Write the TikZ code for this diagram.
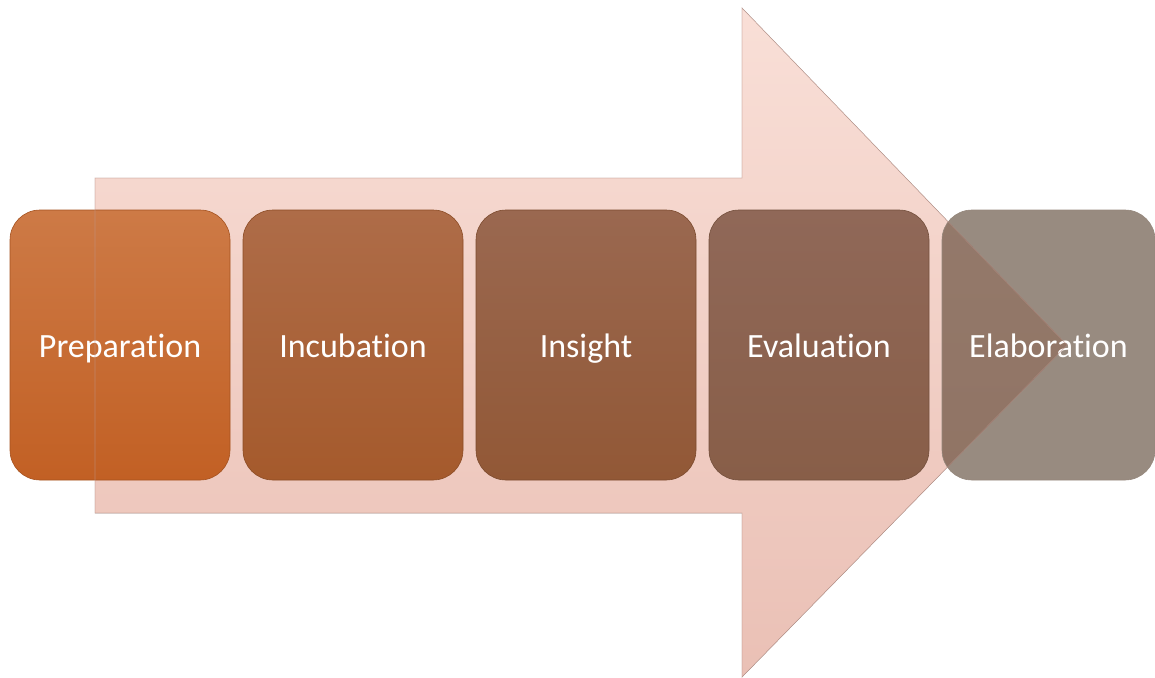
\documentclass[tikz,border=0pt]{standalone}
\usepackage{fontspec}
\setmainfont{Carlito}[Ligatures=NoCommon]
\usetikzlibrary{positioning}
\usetikzlibrary{shadings}

\definecolor{arrowtop}{RGB}{249,223,215}
\definecolor{arrowbot}{RGB}{234,192,181}
\definecolor{arrowline}{RGB}{190,150,140}
\definecolor{preptop}{RGB}{205,122,70}
\definecolor{prepbot}{RGB}{194,96,36}
\definecolor{incutop}{RGB}{174,108,72}
\definecolor{incubot}{RGB}{165,90,44}
\definecolor{instop}{RGB}{154,104,80}
\definecolor{insbot}{RGB}{146,88,54}
\definecolor{evaltop}{RGB}{144,104,88}
\definecolor{evalbot}{RGB}{136,94,72}
\definecolor{elabfill}{RGB}{78,55,36}

\tikzset{
  stagetext/.style={text=white, font=\fontsize{34}{40}\selectfont, text height=24pt, text depth=0pt},
  stage/.style={stagetext, draw=#1bot!85!black, line width=.6pt, top color=#1top, bottom color=#1bot,
    rounded corners=30pt, minimum width=220pt, minimum height=270pt, outer sep=0pt},
}

\begin{document}
\begin{tikzpicture}[x=1pt,y=-1pt,node distance=13pt]
\def\arrowshape{(95,178) -- (742,178) -- (742,8) -- (1067,345) -- (742,677) -- (742,513) -- (95,513) -- cycle}
\useasboundingbox (0,0) rectangle (1155,677);
% big arrow behind the stages
\fill[top color=arrowtop, bottom color=arrowbot] \arrowshape;
\node [stage=prep, name=prep] at (120,345) {Preparation};
\node [stage=incu, right=of prep, name=incu] {Incubation};
\node [stage=ins, right=of incu, name=ins] {Insight};
\node [stage=eval, right=of ins, name=eval] {Evaluation};
\node [stagetext, draw=elabfill!60!white, line width=.6pt, fill=elabfill, fill opacity=.58, text opacity=1,
  rounded corners=30pt, minimum width=213pt, minimum height=270pt, outer sep=0pt,
  right=of eval, name=elab] {Elaboration};
% outline of the arrow on top
\draw[arrowline, draw opacity=.6, line width=.7pt] \arrowshape;
\end{tikzpicture}
\end{document}
